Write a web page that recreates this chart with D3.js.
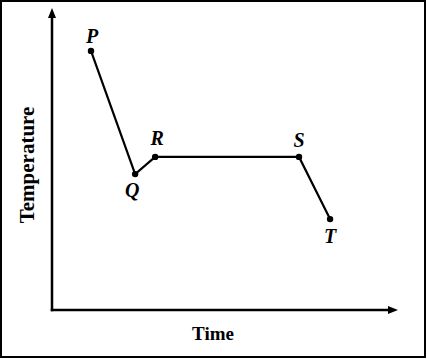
<!DOCTYPE html>
<html><head><meta charset="utf-8">
<script src="https://cdn.jsdelivr.net/npm/d3@7"></script>
<style>body{margin:0;background:#fff;overflow:hidden}</style></head>
<body><script>
// ---- data ----
const pointLabels = ["P", "Q", "R", "S", "T"];
const timeValues  = [11.3, 24.1, 29.9, 71.6, 80.6];
const tempValues  = [85.8, 45.0, 50.7, 50.7, 30.1];
const xAxisTitle = "Time";
const yAxisTitle = "Temperature";

// ---- layout ----
const W = 427, H = 359;
const svg = d3.select("body").append("svg").attr("width", W).attr("height", H);

svg.append("rect").attr("x", 1).attr("y", 1).attr("width", W - 3).attr("height", H - 3)
  .attr("fill", "#fff").attr("stroke", "#000").attr("stroke-width", 2);

const x = d3.scaleLinear().domain([0, 100]).range([52, 345 + 52]);
const y = d3.scaleLinear().domain([0, 100]).range([310, 8]);

const defs = svg.append("defs");
defs.append("marker").attr("id", "arr").attr("viewBox", "0 0 10 8")
  .attr("refX", 0).attr("refY", 4).attr("markerWidth", 10).attr("markerHeight", 8)
  .attr("markerUnits", "userSpaceOnUse").attr("orient", "auto")
  .append("path").attr("d", "M0,0L10,4L0,8Z").attr("fill", "#000");

// axes
const xr = x.copy().range([52, 388]);
const yr = y.copy().range([310, 18]);
const gx = svg.append("g").attr("transform", `translate(0,${y(0)})`)
  .call(d3.axisBottom(xr).tickValues([]).tickSizeOuter(0));
const gy = svg.append("g").attr("transform", `translate(${x(0)},0)`)
  .call(d3.axisLeft(yr).tickValues([]).tickSizeOuter(0));
[gx, gy].forEach(g => g.select(".domain").attr("stroke", "#000").attr("stroke-width", 2.5)
  .attr("marker-end", "url(#arr)"));
gx.select(".domain").attr("d", "M50.75,0H388");
gy.select(".domain").attr("d", "M0,311.25V18");

// line
const pts = pointLabels.map((l, i) => ({ l, t: timeValues[i], v: tempValues[i] }));
svg.append("path").datum(pts)
  .attr("d", d3.line().x(d => x(d.t)).y(d => y(d.v)).curve(d3.curveLinear))
  .attr("fill", "none").attr("stroke", "#000").attr("stroke-width", 2.2);

svg.selectAll("circle.pt").data(pts).join("circle")
  .attr("cx", d => x(d.t)).attr("cy", d => y(d.v)).attr("r", 3.2).attr("fill", "#000");

const off = { P: [1, -8], Q: [-3, 23], R: [2, -12], S: [0, -10], T: [0, 24] };
svg.selectAll("text.lbl").data(pts).join("text")
  .attr("x", d => x(d.t) + off[d.l][0]).attr("y", d => y(d.v) + off[d.l][1])
  .attr("text-anchor", "middle")
  .style("font-family", "'Liberation Serif', serif").style("font-style", "italic")
  .style("font-weight", "bold").style("font-size", "20px").text(d => d.l);

svg.append("text").attr("x", 213).attr("y", 340).attr("text-anchor", "middle")
  .style("font-family", "'Liberation Serif', serif").style("font-weight", "bold")
  .style("font-size", "19px").text(xAxisTitle);

svg.append("text").attr("transform", "translate(34,165) rotate(-90)").attr("text-anchor", "middle")
  .style("font-family", "'Liberation Serif', serif").style("font-weight", "bold")
  .style("font-size", "21px").text(yAxisTitle);
</script></body></html>
